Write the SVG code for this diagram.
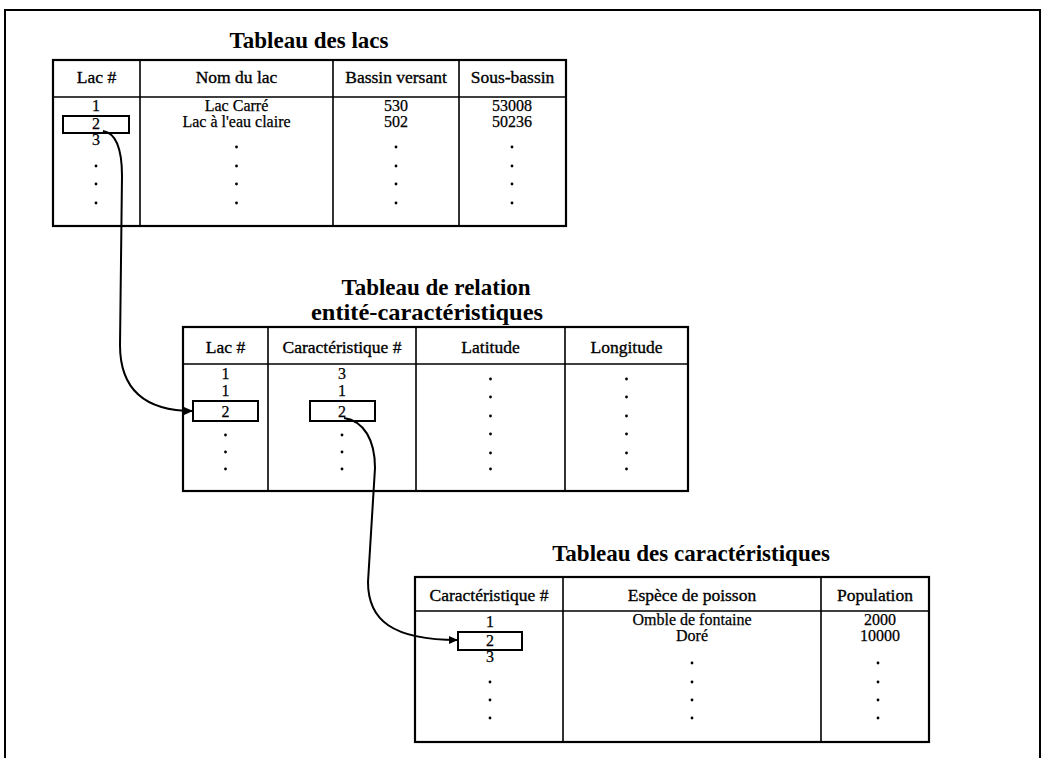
<svg xmlns="http://www.w3.org/2000/svg" width="1048" height="758" viewBox="0 0 1048 758">
<style>
.frame{fill:none;stroke:#000;stroke-width:2}
.tb{fill:#fff;stroke:#000;stroke-width:2.2}
.ln{stroke:#000;stroke-width:1.6;fill:none}
.box{fill:none;stroke:#000;stroke-width:2}
.title{font-family:"Liberation Serif",serif;font-weight:bold;font-size:23px;fill:#000;text-anchor:middle}
.hd{font-family:"Liberation Serif",serif;font-size:17.5px;fill:#000;stroke:#000;stroke-width:0.35;text-anchor:middle}
.dt{font-family:"Liberation Serif",serif;font-size:16px;fill:#000;stroke:#000;stroke-width:0.25;text-anchor:middle}
.dot{fill:#000}
.conn{fill:none;stroke:#000;stroke-width:2}
</style>
<defs>
<marker id="arr" markerUnits="userSpaceOnUse" markerWidth="9" markerHeight="8" refX="9" refY="4" orient="auto">
<path d="M0,0 L9,4 L0,8 z" fill="#000"/>
</marker>
</defs>
<rect width="1048" height="758" fill="#fff"/>
<path class="frame" d="M5,758 V10 H1040 V758"/>

<g id="table-lacs">
<text class="title" x="309" y="48">Tableau des lacs</text>
<rect class="tb" x="53" y="60" width="513" height="166"/>
<path class="ln" d="M53,97 H566 M140,60 V226 M333,60 V226 M459,60 V226"/>
<text class="hd" x="96.5" y="83">Lac #</text>
<text class="hd" x="236.5" y="83">Nom du lac</text>
<text class="hd" x="396" y="83">Bassin versant</text>
<text class="hd" x="512.5" y="83">Sous-bassin</text>
<text class="dt" x="96" y="111">1</text>
<rect class="box" x="63" y="116" width="66" height="17"/>
<text class="dt" x="96" y="129">2</text>
<text class="dt" x="96" y="145">3</text>
<text class="dt" x="236.5" y="111">Lac Carré</text>
<text class="dt" x="236.5" y="127">Lac à l'eau claire</text>
<text class="dt" x="396" y="111">530</text>
<text class="dt" x="396" y="127">502</text>
<text class="dt" x="512" y="111">53008</text>
<text class="dt" x="512" y="127">50236</text>
<g class="dot">
<circle cx="96" cy="166" r="1.4"/><circle cx="96" cy="184" r="1.4"/><circle cx="96" cy="203" r="1.4"/>
<circle cx="236.5" cy="147" r="1.4"/><circle cx="236.5" cy="166" r="1.4"/><circle cx="236.5" cy="184" r="1.4"/><circle cx="236.5" cy="203" r="1.4"/>
<circle cx="396" cy="147" r="1.4"/><circle cx="396" cy="166" r="1.4"/><circle cx="396" cy="184" r="1.4"/><circle cx="396" cy="203" r="1.4"/>
<circle cx="512" cy="147" r="1.4"/><circle cx="512" cy="166" r="1.4"/><circle cx="512" cy="184" r="1.4"/><circle cx="512" cy="203" r="1.4"/>
</g>
</g>

<g id="table-relation">
<text class="title" x="436" y="295">Tableau de relation</text>
<text class="title" x="427" y="320" textLength="232" lengthAdjust="spacingAndGlyphs">entité-caractéristiques</text>
<rect class="tb" x="183" y="327" width="505" height="164"/>
<path class="ln" d="M183,364 H688 M268,327 V491 M416,327 V491 M565,327 V491"/>
<text class="hd" x="225.5" y="353">Lac #</text>
<text class="hd" x="342" y="353">Caractéristique #</text>
<text class="hd" x="490.5" y="353">Latitude</text>
<text class="hd" x="626.5" y="353">Longitude</text>
<text class="dt" x="225.5" y="379">1</text>
<text class="dt" x="225.5" y="396">1</text>
<rect class="box" x="193" y="401" width="65" height="20"/>
<text class="dt" x="225.5" y="417">2</text>
<text class="dt" x="342" y="379">3</text>
<text class="dt" x="342" y="396">1</text>
<rect class="box" x="310" y="401" width="65" height="20"/>
<text class="dt" x="342" y="417">2</text>
<g class="dot">
<circle cx="225.5" cy="435" r="1.4"/><circle cx="225.5" cy="452" r="1.4"/><circle cx="225.5" cy="469" r="1.4"/>
<circle cx="342" cy="435" r="1.4"/><circle cx="342" cy="452" r="1.4"/><circle cx="342" cy="469" r="1.4"/>
<circle cx="490.5" cy="379" r="1.4"/><circle cx="490.5" cy="397" r="1.4"/><circle cx="490.5" cy="416" r="1.4"/><circle cx="490.5" cy="434" r="1.4"/><circle cx="490.5" cy="453" r="1.4"/><circle cx="490.5" cy="469" r="1.4"/>
<circle cx="626.5" cy="379" r="1.4"/><circle cx="626.5" cy="397" r="1.4"/><circle cx="626.5" cy="416" r="1.4"/><circle cx="626.5" cy="434" r="1.4"/><circle cx="626.5" cy="453" r="1.4"/><circle cx="626.5" cy="469" r="1.4"/>
</g>
</g>

<g id="table-caracteristiques">
<text class="title" x="691" y="561">Tableau des caractéristiques</text>
<rect class="tb" x="415" y="577" width="514" height="165"/>
<path class="ln" d="M415,611 H929 M563,577 V742 M821,577 V742"/>
<text class="hd" x="489" y="601">Caractéristique #</text>
<text class="hd" x="692" y="601">Espèce de poisson</text>
<text class="hd" x="875" y="601">Population</text>
<text class="dt" x="490" y="627">1</text>
<rect class="box" x="458" y="632" width="64" height="18"/>
<text class="dt" x="490" y="646">2</text>
<text class="dt" x="490" y="662">3</text>
<text class="dt" x="692" y="625">Omble de fontaine</text>
<text class="dt" x="692" y="641">Doré</text>
<text class="dt" x="880" y="625">2000</text>
<text class="dt" x="880" y="641">10000</text>
<g class="dot">
<circle cx="490" cy="682" r="1.4"/><circle cx="490" cy="700" r="1.4"/><circle cx="490" cy="718" r="1.4"/>
<circle cx="692" cy="663" r="1.4"/><circle cx="692" cy="682" r="1.4"/><circle cx="692" cy="700" r="1.4"/><circle cx="692" cy="718" r="1.4"/>
<circle cx="878" cy="663" r="1.4"/><circle cx="878" cy="682" r="1.4"/><circle cx="878" cy="700" r="1.4"/><circle cx="878" cy="718" r="1.4"/>
</g>
</g>

<g id="connectors">
<path class="conn" marker-end="url(#arr)" d="M103,131 C116,133 122,150 122,176 L120,345 C120,388 143,411 193,411"/>
<path class="conn" marker-end="url(#arr)" d="M344,418 C364,421 375,440 375,468 L368,582 C368,620 392,640 458,640"/>
</g>
</svg>
